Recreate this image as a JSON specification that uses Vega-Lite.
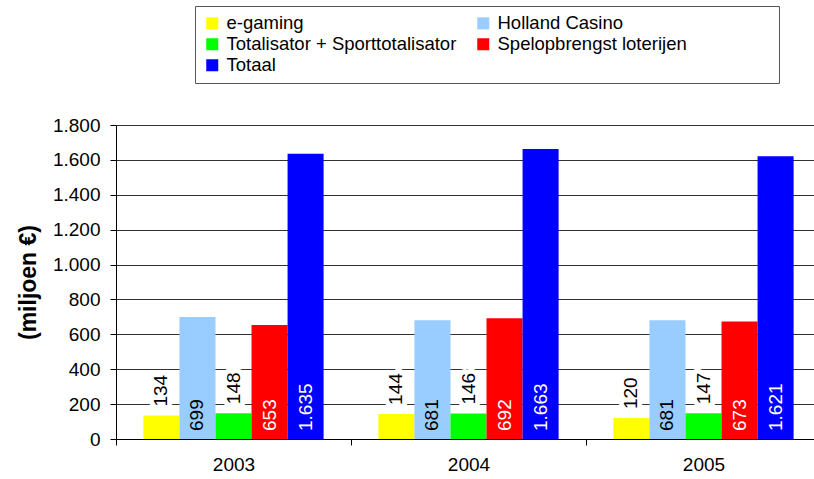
{
  "$schema": "https://vega.github.io/schema/vega-lite/v6.json",
  "width": 705,
  "height": 314,
  "autosize": "none",
  "padding": {"left": 116, "top": 125, "right": 0, "bottom": 40},
  "config": {
    "locale": {"number": {"decimal": ",", "thousands": ".", "grouping": [3], "currency": ["€", ""]}},
    "font": "Liberation Sans",
    "view": {"stroke": null}
  },
  "data": {
    "values": [
      {"jaar": "2003", "serie": "e-gaming", "waarde": 134},
      {"jaar": "2003", "serie": "Holland Casino", "waarde": 699},
      {"jaar": "2003", "serie": "Totalisator + Sporttotalisator", "waarde": 148},
      {"jaar": "2003", "serie": "Spelopbrengst loterijen", "waarde": 653},
      {"jaar": "2003", "serie": "Totaal", "waarde": 1635},
      {"jaar": "2004", "serie": "e-gaming", "waarde": 144},
      {"jaar": "2004", "serie": "Holland Casino", "waarde": 681},
      {"jaar": "2004", "serie": "Totalisator + Sporttotalisator", "waarde": 146},
      {"jaar": "2004", "serie": "Spelopbrengst loterijen", "waarde": 692},
      {"jaar": "2004", "serie": "Totaal", "waarde": 1663},
      {"jaar": "2005", "serie": "e-gaming", "waarde": 120},
      {"jaar": "2005", "serie": "Holland Casino", "waarde": 681},
      {"jaar": "2005", "serie": "Totalisator + Sporttotalisator", "waarde": 147},
      {"jaar": "2005", "serie": "Spelopbrengst loterijen", "waarde": 673},
      {"jaar": "2005", "serie": "Totaal", "waarde": 1621}
    ]
  },
  "encoding": {
    "x": {
      "field": "jaar", "type": "nominal",
      "scale": {"paddingInner": 0, "paddingOuter": 0},
      "axis": {
        "title": null, "labelAngle": 0, "labelFontSize": 19, "labelColor": "black",
        "domainColor": "black", "tickColor": "black", "tickSize": 6, "labelPadding": 10,
        "tickBand": "extent", "grid": false
      }
    },
    "xOffset": {
      "field": "serie", "type": "nominal",
      "sort": ["e-gaming", "Holland Casino", "Totalisator + Sporttotalisator", "Spelopbrengst loterijen", "Totaal"],
      "scale": {"paddingInner": 0, "paddingOuter": 0.76}
    }
  },
  "layer": [
    {
      "mark": {"type": "bar"},
      "encoding": {
        "y": {
          "field": "waarde", "type": "quantitative",
          "scale": {"domain": [0, 1800], "nice": false},
          "axis": {
            "values": [0, 200, 400, 600, 800, 1000, 1200, 1400, 1600, 1800], "tickCount": 20,
            "format": ",.0f", "labelOverlap": false, "title": "(miljoen €)", "titleFontSize": 23, "titleFontWeight": "bold",
            "titleColor": "black", "labelFontSize": 19, "labelColor": "black",
            "domainColor": "black", "tickColor": "black", "tickSize": 6, "labelPadding": 10,
            "gridColor": "#333333", "titlePadding": 12
          }
        },
        "color": {
          "field": "serie", "type": "nominal",
          "scale": {
            "domain": ["e-gaming", "Holland Casino", "Totalisator + Sporttotalisator", "Spelopbrengst loterijen", "Totaal"],
            "range": ["#FFFF00", "#99CCFF", "#00FF00", "#FF0000", "#0000FF"]
          },
          "legend": {
            "orient": "none", "legendX": 79, "legendY": -119,
            "columns": 2, "direction": "horizontal", "gridAlign": "each",
            "title": null,
            "labelExpr": "datum.label == 'Spelopbrengst loterijen' ? datum.label + '\u2800\u2800\u2800\u2800\u2800\u2800' : datum.label",
            "strokeColor": "#555555", "padding": 8,
            "symbolType": "square", "symbolSize": 144, "symbolStrokeWidth": 0,
            "labelFontSize": 18.5, "labelColor": "black", "labelLimit": 400,
            "rowPadding": 2, "columnPadding": 17, "labelOffset": 5
          }
        }
      }
    },
    {
      "transform": [{"filter": "datum.waarde < 300"}],
      "mark": {"type": "text", "angle": 270, "align": "left", "baseline": "middle", "dx": 9, "fontSize": 19, "fill": "white", "stroke": "white", "strokeWidth": 10, "strokeJoin": "round"},
      "encoding": {
        "y": {"field": "waarde", "type": "quantitative"},
        "text": {"field": "waarde", "type": "quantitative", "format": ",.0f"}
      }
    },
    {
      "transform": [{"filter": "datum.waarde < 300"}],
      "mark": {"type": "text", "angle": 270, "align": "left", "baseline": "middle", "dx": 9, "fontSize": 19, "fill": "black"},
      "encoding": {
        "y": {"field": "waarde", "type": "quantitative"},
        "text": {"field": "waarde", "type": "quantitative", "format": ",.0f"}
      }
    },
    {
      "transform": [{"filter": "datum.waarde >= 300"}],
      "mark": {"type": "text", "angle": 270, "align": "left", "baseline": "middle", "dx": 8, "fontSize": 19},
      "encoding": {
        "y": {"datum": 0, "type": "quantitative"},
        "text": {"field": "waarde", "type": "quantitative", "format": ",.0f"},
        "color": {
          "condition": {"test": "datum.serie == 'Spelopbrengst loterijen' || datum.serie == 'Totaal'", "value": "white"},
          "value": "black"
        }
      }
    }
  ]
}
